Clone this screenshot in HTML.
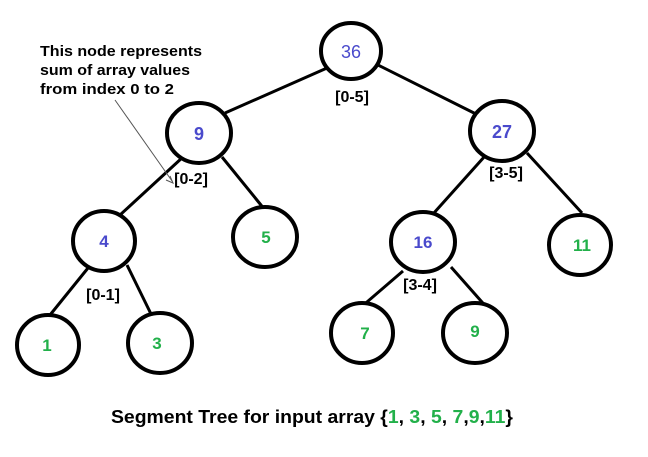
<!DOCTYPE html>
<html><head><style>body{margin:0;background:#fff}svg{display:block}</style></head><body>
<svg width="648" height="457" viewBox="0 0 648 457" xmlns="http://www.w3.org/2000/svg" font-family="Liberation Sans, Arial, sans-serif" font-weight="bold">
<g stroke="#000" stroke-width="3" fill="none">
<line x1="327" y1="68" x2="225" y2="113"/>
<line x1="378" y1="65" x2="478" y2="115"/>
<line x1="183" y1="157" x2="120" y2="215"/>
<line x1="222" y1="157" x2="265" y2="210"/>
<line x1="485" y1="156" x2="433" y2="214"/>
<line x1="527" y1="153" x2="582" y2="213"/>
<line x1="88" y1="268" x2="50" y2="315"/>
<line x1="127" y1="265" x2="152" y2="316"/>
<line x1="403" y1="271" x2="360" y2="308"/>
<line x1="451" y1="267" x2="489" y2="310"/>
<g stroke-width="4" fill="#fff">
<ellipse cx="351" cy="51" rx="30" ry="28"/>
<ellipse cx="199" cy="133" rx="32" ry="30"/>
<ellipse cx="502" cy="131" rx="32" ry="30"/>
<ellipse cx="104" cy="241" rx="31" ry="30"/>
<ellipse cx="265" cy="237" rx="32" ry="30"/>
<ellipse cx="423" cy="242" rx="32" ry="30"/>
<ellipse cx="580" cy="245" rx="31" ry="30"/>
<ellipse cx="48" cy="345" rx="31" ry="30"/>
<ellipse cx="160" cy="343" rx="32" ry="30"/>
<ellipse cx="362" cy="333" rx="31" ry="30"/>
<ellipse cx="475" cy="333" rx="32" ry="30"/>
</g>
</g>
<line x1="115" y1="100" x2="172" y2="181" stroke="#555" stroke-width="1"/>
<path d="M166 180 L173 183 L170 176" stroke="#555" stroke-width="1" fill="none"/>
<g font-size="18" text-anchor="middle" font-weight="normal">
<text x="351" y="58" fill="#4a4acc">36</text>
<text x="199" y="140" fill="#4a4acc" font-weight="bold">9</text>
<text x="502" y="138" fill="#4a4acc" font-weight="bold">27</text>
</g>
<g font-size="17" text-anchor="middle">
<text x="104" y="247" fill="#4a4acc">4</text>
<text x="266" y="243" fill="#22b04a">5</text>
<text x="423" y="248" fill="#4a4acc">16</text>
<text x="582" y="251" fill="#22b04a">11</text>
<text x="47" y="351" fill="#22b04a">1</text>
<text x="157" y="349" fill="#22b04a">3</text>
<text x="365" y="339" fill="#22b04a">7</text>
<text x="475" y="337" fill="#22b04a">9</text>
</g>
<g font-size="16" text-anchor="middle" fill="#000">
<text x="352" y="102">[0-5]</text>
<text x="191" y="184">[0-2]</text>
<text x="506" y="178">[3-5]</text>
<text x="103" y="300">[0-1]</text>
<text x="420" y="290">[3-4]</text>
</g>
<g font-size="15" fill="#000">
<text x="40" y="56" textLength="162" lengthAdjust="spacingAndGlyphs">This node represents</text>
<text x="40" y="75" textLength="150" lengthAdjust="spacingAndGlyphs">sum of array values</text>
<text x="40" y="94" textLength="134" lengthAdjust="spacingAndGlyphs">from index 0 to 2</text>
</g>
<text x="111" y="423" font-size="18" fill="#000" textLength="402" lengthAdjust="spacingAndGlyphs">Segment Tree for input array {<tspan fill="#22b04a">1</tspan>, <tspan fill="#22b04a">3</tspan>, <tspan fill="#22b04a">5</tspan>, <tspan fill="#22b04a">7</tspan>,<tspan fill="#22b04a">9</tspan>,<tspan fill="#22b04a">11</tspan>}</text>
</svg>
</body></html>
